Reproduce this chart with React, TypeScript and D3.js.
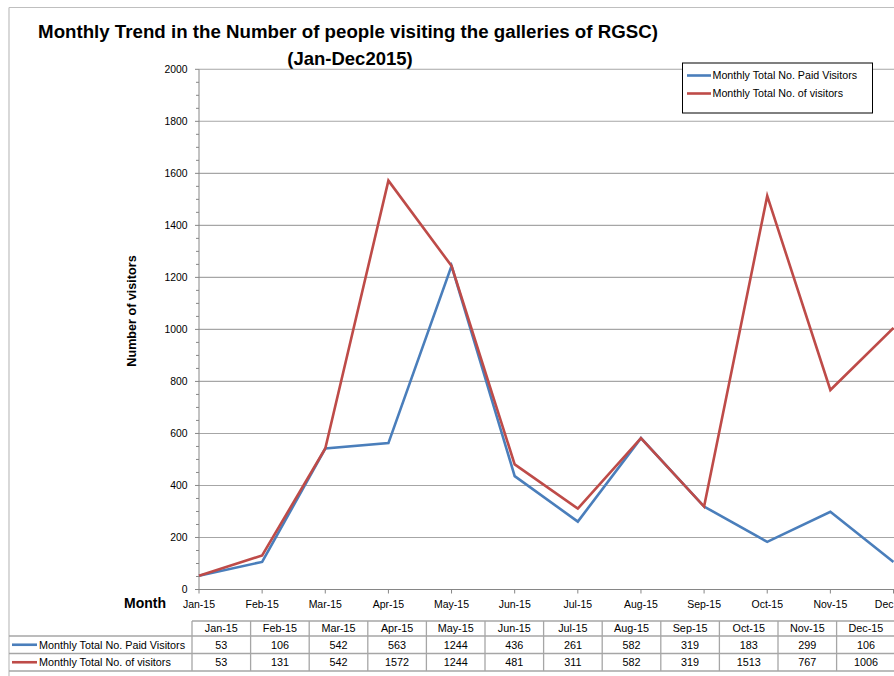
import React from "react";
import * as d3 from "d3";

// Monthly visitor counts at the RGSC galleries, 2015
const months = ["Jan-15", "Feb-15", "Mar-15", "Apr-15", "May-15", "Jun-15", "Jul-15", "Aug-15", "Sep-15", "Oct-15", "Nov-15", "Dec-15"];
const axisLabels = ["Jan-15", "Feb-15", "Mar-15", "Apr-15", "May-15", "Jun-15", "Jul-15", "Aug-15", "Sep-15", "Oct-15", "Nov-15", "Dec"];
const paidVisitors = [53, 106, 542, 563, 1244, 436, 261, 582, 319, 183, 299, 106];
const totalVisitors = [53, 131, 542, 1572, 1244, 481, 311, 582, 319, 1513, 767, 1006];
const yTicks = [0, 200, 400, 600, 800, 1000, 1200, 1400, 1600, 1800, 2000];

const seriesNames = ["Monthly Total No. Paid Visitors", "Monthly Total No. of visitors"];
const seriesColors = ["#4a7ebb", "#be4b48"];
const seriesValues = [paidVisitors, totalVisitors];

const W = 894;
const H = 676;
const FONT = "'Liberation Sans', Arial, sans-serif";

export default function App() {
  const x = d3.scalePoint<string>().domain(months).range([199, 893.5]);
  const y = d3.scaleLinear().domain([0, 2000]).range([589.5, 69.3]);
  const minorTicks = d3.range(0, 2001, 50).filter((v) => v % 200 !== 0);

  const col = d3.scaleBand<string>().domain(months).range([192, 192 + 12 * 58.6]);
  const rowLines = [621, 636, 653.5, 671];
  const gridColor = "#a6a6a6";
  const tableColor = "#a6a6a6";

  const line = (vals: number[]) =>
    d3
      .line<number>()
      .x((_, i) => x(months[i]) as number)
      .y((v) => y(v))(vals) as string;

  return (
    <svg
      width={W}
      height={H}
      style={{ position: "absolute", left: 0, top: 0, background: "#fff" }}
      fontFamily={FONT}
    >
      <rect x={0} y={0} width={W} height={H} fill="#fff" />
      {/* chart frame */}
      <line x1={9} y1={7.5} x2={W} y2={7.5} stroke="#bfbfbf" strokeWidth={1.2} />
      <line x1={9} y1={7.5} x2={9} y2={H} stroke="#bfbfbf" strokeWidth={1.2} />

      {/* title */}
      <text x={348} y={38} textAnchor="middle" fontSize={18.7} fontWeight="bold" fill="#000">
        Monthly Trend in the Number of people visiting the galleries of RGSC)
      </text>
      <text x={350} y={65} textAnchor="middle" fontSize={18.5} fontWeight="bold" fill="#000">
        (Jan-Dec2015)
      </text>

      {/* gridlines */}
      {yTicks.slice(1).map((t) => (
        <line key={t} x1={199} x2={W} y1={y(t)} y2={y(t)} stroke={gridColor} strokeWidth={1.1} />
      ))}

      {/* y axis */}
      <line x1={199} x2={199} y1={y(0)} y2={y(2000)} stroke="#868686" strokeWidth={1} />
      {yTicks.map((t) => (
        <g key={t}>
          <line x1={195} x2={199} y1={y(t)} y2={y(t)} stroke="#868686" />
          <text x={187.5} y={y(t)} dy="0.35em" textAnchor="end" fontSize={10.4} fill="#000">
            {t}
          </text>
        </g>
      ))}
      {minorTicks.map((t) => (
        <line key={t} x1={196} x2={199} y1={y(t)} y2={y(t)} stroke="#868686" />
      ))}
      <text
        transform={`translate(136,311) rotate(-90)`}
        textAnchor="middle"
        fontSize={12.6}
        fontWeight="bold"
        fill="#000"
      >
        Number of visitors
      </text>

      {/* x axis */}
      <line x1={199} x2={W} y1={y(0)} y2={y(0)} stroke="#868686" strokeWidth={1} />
      {months.map((m, i) => {
        const last = i === months.length - 1;
        return (
          <g key={m}>
            <line x1={x(m)} x2={x(m)} y1={y(0)} y2={y(0) + 4} stroke="#868686" />
            <text
              x={last ? W - 0.5 : x(m)}
              y={608}
              textAnchor={last ? "end" : "middle"}
              fontSize={10.5}
              fill="#000"
            >
              {axisLabels[i]}
            </text>
          </g>
        );
      })}
      <text x={124} y={608} fontSize={14} fontWeight="bold" fill="#000">
        Month
      </text>

      {/* series */}
      {seriesValues.map((vals, i) => (
        <path
          key={i}
          d={line(vals)}
          fill="none"
          stroke={seriesColors[i]}
          strokeWidth={2.6}
          strokeLinejoin="miter"
        />
      ))}

      {/* legend */}
      <rect x={682.5} y={63} width={190} height={50} fill="#fff" stroke="#000" strokeWidth={1} />
      {seriesNames.map((n, i) => (
        <g key={n} transform={`translate(0,${75.5 + i * 18})`}>
          <line x1={687} x2={711} y1={0} y2={0} stroke={seriesColors[i]} strokeWidth={2.6} />
          <text x={712.5} y={0} dy="0.35em" fontSize={10.7} fill="#000">
            {n}
          </text>
        </g>
      ))}

      {/* data table */}
      <line x1={192} x2={W} y1={rowLines[0]} y2={rowLines[0]} stroke={tableColor} strokeWidth={1.3} />
      {rowLines.slice(1).map((ry) => (
        <line key={ry} x1={9} x2={W} y1={ry} y2={ry} stroke={tableColor} strokeWidth={1.3} />
      ))}
      {months.map((m) => (
        <line
          key={m}
          x1={col(m)}
          x2={col(m)}
          y1={rowLines[0]}
          y2={rowLines[3]}
          stroke={tableColor}
          strokeWidth={1.3}
        />
      ))}
      {months.map((m) => (
        <text
          key={m}
          x={(col(m) as number) + col.bandwidth() / 2}
          y={(rowLines[0] + rowLines[1]) / 2}
          dy="0.35em"
          textAnchor="middle"
          fontSize={10.8}
          fill="#000"
        >
          {m}
        </text>
      ))}
      {seriesValues.map((vals, r) => {
        const cy = (rowLines[r + 1] + rowLines[r + 2]) / 2;
        return (
          <g key={r}>
            <line x1={12} x2={37} y1={cy} y2={cy} stroke={seriesColors[r]} strokeWidth={2.6} />
            <text x={39} y={cy} dy="0.35em" fontSize={10.8} fill="#000">
              {seriesNames[r]}
            </text>
            {vals.map((v, i) => (
              <text
                key={i}
                x={(col(months[i]) as number) + col.bandwidth() / 2}
                y={cy}
                dy="0.35em"
                textAnchor="middle"
                fontSize={10.8}
                fill="#000"
              >
                {v}
              </text>
            ))}
          </g>
        );
      })}
    </svg>
  );
}
